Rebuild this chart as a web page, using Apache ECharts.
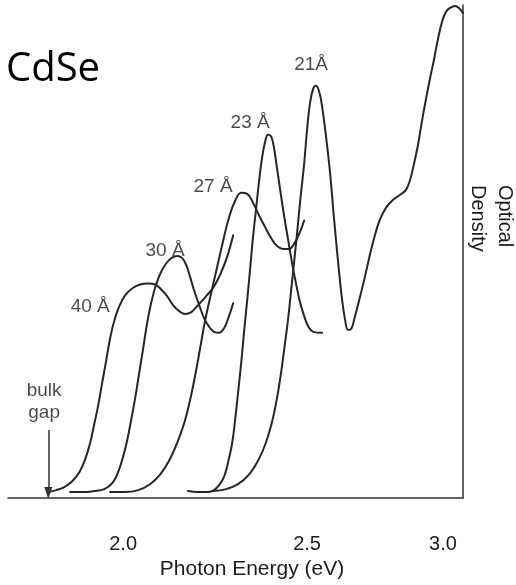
<!DOCTYPE html>
<html>
<head>
<meta charset="utf-8">
<script src="https://cdn.jsdelivr.net/npm/echarts@6/dist/echarts.min.js"></script>
<style>
  html, body { margin: 0; padding: 0; background: #fff; }
  #chart { width: 516px; height: 585px; }
</style>
</head>
<body>
<div id="chart"></div>
<script>
// Absorption spectra of CdSe nanocrystals: [photon energy (eV), optical density]
const spectrum40A = [
  [1.766,0.012],[1.791,0.016],[1.816,0.022],[1.841,0.034],[1.863,0.052],[1.881,0.078],
  [1.897,0.112],[1.909,0.148],[1.922,0.188],[1.934,0.232],[1.947,0.279],[1.959,0.323],
  [1.972,0.359],[1.988,0.389],[2.006,0.411],[2.028,0.425],[2.053,0.433],[2.078,0.435],
  [2.100,0.433],[2.119,0.423],[2.138,0.409],[2.156,0.391],[2.175,0.379],[2.194,0.373],
  [2.213,0.377],[2.234,0.391],[2.259,0.409],[2.284,0.429],[2.306,0.457],[2.325,0.489],
  [2.344,0.533]
];
const spectrum30A = [
  [1.834,0.012],[1.872,0.012],[1.909,0.014],[1.941,0.018],[1.966,0.030],[1.984,0.052],
  [2.000,0.084],[2.013,0.118],[2.025,0.158],[2.038,0.204],[2.050,0.253],[2.063,0.305],
  [2.075,0.355],[2.088,0.397],[2.103,0.433],[2.122,0.463],[2.144,0.483],[2.169,0.491],
  [2.184,0.487],[2.197,0.473],[2.209,0.449],[2.222,0.421],[2.238,0.391],[2.253,0.365],
  [2.269,0.347],[2.284,0.337],[2.300,0.335],[2.316,0.345],[2.331,0.369],[2.344,0.395]
];
const spectrum27A = [
  [1.959,0.012],[2.006,0.012],[2.047,0.016],[2.084,0.028],[2.116,0.048],[2.144,0.076],
  [2.169,0.112],[2.191,0.152],[2.209,0.198],[2.225,0.248],[2.241,0.305],[2.256,0.359],
  [2.275,0.415],[2.294,0.469],[2.313,0.523],[2.331,0.569],[2.350,0.603],[2.369,0.619],
  [2.388,0.617],[2.406,0.599],[2.425,0.573],[2.444,0.549],[2.463,0.527],[2.481,0.511],
  [2.500,0.505],[2.519,0.505],[2.534,0.515],[2.550,0.535],[2.566,0.563]
];
const spectrum23A = [
  [2.203,0.014],[2.234,0.012],[2.266,0.012],[2.284,0.016],[2.300,0.026],[2.316,0.044],
  [2.328,0.072],[2.341,0.112],[2.350,0.158],[2.359,0.212],[2.369,0.273],[2.378,0.337],
  [2.388,0.403],[2.397,0.465],[2.406,0.529],[2.416,0.589],[2.425,0.643],[2.434,0.689],
  [2.444,0.723],[2.453,0.737],[2.463,0.733],[2.472,0.709],[2.481,0.669],[2.491,0.625],
  [2.503,0.573],[2.516,0.523],[2.528,0.477],[2.541,0.433],[2.553,0.397],[2.566,0.369],
  [2.578,0.349],[2.594,0.337],[2.622,0.335]
];
const spectrum21A = [
  [2.281,0.014],[2.322,0.018],[2.359,0.028],[2.394,0.048],[2.422,0.076],[2.444,0.108],
  [2.463,0.148],[2.478,0.192],[2.491,0.242],[2.503,0.299],[2.516,0.365],[2.528,0.439],
  [2.541,0.519],[2.553,0.599],[2.566,0.679],[2.575,0.747],[2.584,0.800],[2.594,0.830],
  [2.603,0.836],[2.613,0.824],[2.622,0.794],[2.634,0.735],[2.647,0.659],[2.659,0.569],
  [2.672,0.479],[2.684,0.405],[2.694,0.361],[2.703,0.341],[2.713,0.343],[2.725,0.369],
  [2.741,0.409],[2.756,0.449],[2.772,0.495],[2.788,0.535],[2.803,0.565],[2.822,0.589],
  [2.844,0.605],[2.866,0.615],[2.884,0.625],[2.897,0.645],[2.909,0.677],[2.922,0.717],
  [2.934,0.764],[2.947,0.810],[2.959,0.850],[2.972,0.890],[2.984,0.930],[2.997,0.966],
  [3.009,0.986],[3.022,0.994],[3.038,0.998],[3.050,0.994],[3.0625,0.984]
];

// Energy axis tick labels
const energyTicks = [2.0, 2.5, 3.0];

// Size labels next to each spectrum: [text, energy, optical density]
const sizeLabels = [
  ['40 Å', 1.897, 0.387],
  ['30 Å', 2.131, 0.501],
  ['27 Å', 2.281, 0.631],
  ['23 Å', 2.397, 0.762],
  ['21Å', 2.5875, 0.878],
  ['bulk', 1.753, 0.218],
  ['gap', 1.753, 0.172]
];
// Bulk band gap marker: energy and arrow extent
const bulkGap = { energy: 1.766, from: 0.138, to: 0.010 };

const ink = '#262626';
const textInk = '#1c1c1c';
const tickFont = { fontFamily: 'Liberation Sans', fontSize: 20, color: textInk };

function spectrumSeries(name, data, extra) {
  return Object.assign({
    name: name,
    type: 'line',
    data: data,
    smooth: 0.4,
    showSymbol: false,
    symbol: 'none',
    silent: true,
    lineStyle: { color: ink, width: 2, join: 'round', cap: 'round' }
  }, extra || {});
}

const chart = echarts.init(document.getElementById('chart'), null, { renderer: 'canvas' });

chart.setOption({
  animation: false,
  backgroundColor: '#fff',
  title: {
    text: 'CdSe',
    left: 6,
    top: 50,
    padding: 0,
    textStyle: { fontFamily: 'Open Sans', fontSize: 40, fontWeight: 'normal', color: '#000' }
  },
  grid: { left: 8, right: 53, top: 5, bottom: 81, containLabel: false },
  xAxis: {
    type: 'value',
    min: 1.64,
    max: 3.0625,
    name: 'Photon Energy (eV)',
    nameLocation: 'middle',
    nameGap: 61,
    nameTextStyle: {
      fontFamily: 'Liberation Sans', fontSize: 21, color: textInk,
      padding: [0, 0, 0, 33]
    },
    axisLine: { show: true, lineStyle: { color: '#333', width: 1.5 } },
    axisTick: { show: false },
    splitLine: { show: false },
    axisLabel: Object.assign({
      customValues: energyTicks,
      margin: 36,
      // the middle label sits a little right of its tick, as printed on the original axis
      formatter: v => (v === 2.5 ? '{mid|' + v.toFixed(1) + '}' : v.toFixed(1)),
      rich: { mid: Object.assign({ padding: [0, 0, 0, 48] }, tickFont) }
    }, tickFont)
  },
  yAxis: {
    type: 'value',
    min: 0,
    max: 1,
    position: 'right',
    axisLine: { show: true, lineStyle: { color: '#333', width: 1.5 } },
    axisTick: { show: false },
    axisLabel: { show: false },
    splitLine: { show: false }
  },
  graphic: [{
    type: 'text',
    x: 491,
    y: 185,
    rotation: -Math.PI / 2,
    style: {
      text: 'Optical\nDensity',
      font: '20px "Liberation Sans"',
      fill: textInk,
      align: 'left',
      verticalAlign: 'middle',
      lineHeight: 27
    }
  }],
  series: [
    spectrumSeries('40 Å', spectrum40A, {
      markLine: {
        silent: true,
        symbol: ['none', 'triangle'],
        symbolSize: [8, 12],
        symbolRotate: 180,
        label: { show: false },
        lineStyle: { color: '#333', width: 1.5, type: 'solid' },
        data: [[
          { coord: [bulkGap.energy, bulkGap.from] },
          { coord: [bulkGap.energy, bulkGap.to] }
        ]]
      }
    }),
    spectrumSeries('30 Å', spectrum30A),
    spectrumSeries('27 Å', spectrum27A),
    spectrumSeries('23 Å', spectrum23A),
    spectrumSeries('21 Å', spectrum21A),
    {
      name: 'labels',
      type: 'scatter',
      silent: true,
      symbolSize: 0,
      data: sizeLabels.map(l => ({ name: l[0], value: [l[1], l[2]] })),
      label: {
        show: true,
        position: 'inside',
        formatter: '{b}',
        fontFamily: 'Liberation Sans',
        fontSize: 19,
        color: textInk
      }
    }
  ]
});
</script>
</body>
</html>
